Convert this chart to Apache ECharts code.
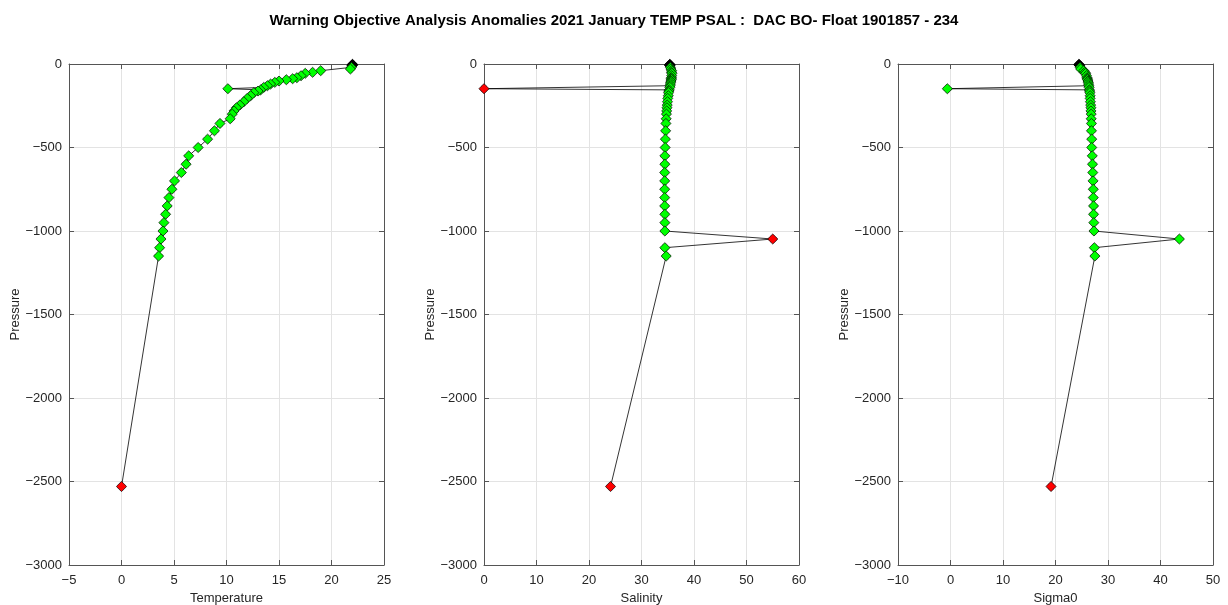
<!DOCTYPE html>
<html>
<head>
<meta charset="utf-8">
<title>Float 1901857 - 234</title>
<script src="https://cdn.jsdelivr.net/npm/echarts@6/dist/echarts.min.js"></script>
<style>
  html, body { margin: 0; padding: 0; background: #ffffff; }
  #chart { width: 1228px; height: 605px; }
</style>
</head>
<body>
<div id="chart"></div>
<script>
// Profile levels (dbar, plotted downward as negative pressure)
const pressure = [-2, -4, -6, -8, -10, -20, -30, -40, -50, -56, -70, -82, -88, -94, -102, -110, -120, -130, -140, -148,
  -155, -162, -172, -190, -206, -226, -246, -262, -281, -300, -328, -356, -400, -450, -500, -550, -600, -650, -700, -750,
  -800, -850, -900, -950, -1000, -1048, -1100, -1150, -2530];

const temperature = [22.0, 22.0, 21.95, 22.0, 21.95, 21.9, 21.8, 18.97, 18.2, 17.5, 17.1, 16.7, 16.3, 15.7, 15.0, 14.6, 14.2, 13.9, 13.55, 10.13,
  13.25, 13.0, 12.6, 12.3, 11.97, 11.65, 11.27, 10.95, 10.72, 10.55, 10.35, 9.38, 8.85, 8.2, 7.3, 6.4, 6.15, 5.7, 5.05, 4.8,
  4.52, 4.35, 4.2, 4.04, 3.95, 3.76, 3.63, 3.53, 0.0];

const salinity = [35.4, 35.4, 35.35, 35.4, 35.4, 35.5, 35.6, 35.75, 35.7, 35.8, 35.75, 35.7, 35.65, 35.7, 35.6, 35.55, 35.5, 35.45, 35.4, 0.0,
  35.3, 35.2, 35.15, 35.1, 35.0, 34.95, 34.9, 34.85, 34.8, 34.75, 34.7, 34.65, 34.6, 34.55, 34.5, 34.45, 34.45, 34.42, 34.42, 34.42,
  34.42, 34.42, 34.45, 34.45, 34.45, 55.0, 34.45, 34.7, 24.1];

const sigma0 = [24.45, 24.5, 24.5, 24.55, 24.6, 24.7, 24.8, 25.4, 25.6, 25.75, 25.9, 26.0, 26.05, 26.1, 26.2, 26.25, 26.3, 26.35, 26.4, -0.6,
  26.45, 26.5, 26.55, 26.6, 26.6, 26.65, 26.7, 26.75, 26.75, 26.8, 26.8, 26.85, 26.85, 26.9, 26.9, 27.0, 27.05, 27.1, 27.15, 27.2,
  27.2, 27.25, 27.25, 27.3, 27.33, 43.6, 27.4, 27.5, 19.15];

// Marker class per level: k = surface, g = accepted, r = flagged anomaly
const flagTemp = ['k','k','k','k','k','g','g','g','g','g','g','g','g','g','g','g','g','g','g','g',
  'g','g','g','g','g','g','g','g','g','g','g','g','g','g','g','g','g','g','g','g',
  'g','g','g','g','g','g','g','g','r'];
const flagPsal = ['k','k','k','k','k','g','g','g','g','g','g','g','g','g','g','g','g','g','g','r',
  'g','g','g','g','g','g','g','g','g','g','g','g','g','g','g','g','g','g','g','g',
  'g','g','g','g','g','r','g','g','r'];
const flagSigma = ['k','k','k','k','k','g','g','g','g','g','g','g','g','g','g','g','g','g','g','g',
  'g','g','g','g','g','g','g','g','g','g','g','g','g','g','g','g','g','g','g','g',
  'g','g','g','g','g','g','g','g','r'];

// Axis ticks: [min, max, step]
const pressureTicks = [-3000, 0, 500];
const tempTicks = [-5, 25, 5];
const salTicks = [0, 60, 10];
const sigmaTicks = [-10, 50, 10];

const panels = [
  { name: 'Temperature', values: temperature, flags: flagTemp, ticks: tempTicks, left: 69 },
  { name: 'Salinity', values: salinity, flags: flagPsal, ticks: salTicks, left: 484 },
  { name: 'Sigma0', values: sigma0, flags: flagSigma, ticks: sigmaTicks, left: 898 }
];

const flagColor = { k: '#000000', g: '#00ff00', r: '#ff0000' };
const FONT = 'Liberation Sans';
const axisColor = '#555555';
const minus = v => String(v).replace('-', '\u2212');
const marker = 'path://M50,0 L80,28 L100,50 L80,72 L50,100 L20,72 L0,50 L20,28 Z';

const grid = [], xAxis = [], yAxis = [], series = [];
panels.forEach((p, i) => {
  grid.push({ left: p.left, top: 64, width: 315, height: 501, containLabel: false, outerBoundsMode: 'none' });
  const baseX = {
    type: 'value', gridIndex: i, min: p.ticks[0], max: p.ticks[1], interval: p.ticks[2]
  };
  const baseY = {
    type: 'value', gridIndex: i, min: pressureTicks[0], max: pressureTicks[1], interval: pressureTicks[2]
  };
  xAxis.push(Object.assign({}, baseX, {
    position: 'bottom',
    name: p.name, nameLocation: 'middle', nameGap: 25,
    nameTextStyle: { fontFamily: FONT, fontSize: 13, color: '#262626' },
    axisLine: { onZero: false, lineStyle: { color: axisColor, width: 1 } },
    axisTick: { inside: true, length: 5, lineStyle: { color: axisColor } },
    axisLabel: { fontFamily: FONT, fontSize: 13, color: '#262626', margin: 9, formatter: minus },
    splitLine: { show: true, lineStyle: { color: '#e3e3e3', width: 1 } }
  }));
  xAxis.push(Object.assign({}, baseX, {
    position: 'top',
    axisLine: { onZero: false, lineStyle: { color: axisColor, width: 1 } },
    axisTick: { inside: true, length: 5, lineStyle: { color: axisColor } },
    axisLabel: { show: false },
    splitLine: { show: false }
  }));
  yAxis.push(Object.assign({}, baseY, {
    position: 'left',
    name: 'Pressure', nameLocation: 'middle', nameGap: 46, nameRotate: 90,
    nameTextStyle: { fontFamily: FONT, fontSize: 13, color: '#262626' },
    axisLine: { onZero: false, lineStyle: { color: axisColor, width: 1 } },
    axisTick: { inside: true, length: 5, lineStyle: { color: axisColor } },
    axisLabel: { fontFamily: FONT, fontSize: 13, color: '#262626', margin: 7, formatter: minus },
    splitLine: { show: true, lineStyle: { color: '#e3e3e3', width: 1 } }
  }));
  yAxis.push(Object.assign({}, baseY, {
    position: 'right',
    axisLine: { onZero: false, lineStyle: { color: axisColor, width: 1 } },
    axisTick: { inside: true, length: 5, lineStyle: { color: axisColor } },
    axisLabel: { show: false },
    splitLine: { show: false }
  }));

  const pts = p.values.map((v, k) => [v, pressure[k]]);
  series.push({
    type: 'line', xAxisIndex: 2 * i, yAxisIndex: 2 * i,
    data: pts, symbol: 'none', animation: false,
    lineStyle: { color: '#000000', width: 0.8 }, z: 2
  });
  series.push({
    type: 'scatter', xAxisIndex: 2 * i, yAxisIndex: 2 * i,
    symbol: marker, symbolSize: 10, animation: false, z: 3,
    data: pts.map((pt, k) => ({
      value: pt,
      itemStyle: { color: flagColor[p.flags[k]], opacity: 1, borderColor: '#000000', borderWidth: 0.7 }
    }))
  });
});

const chart = echarts.init(document.getElementById('chart'), null, { renderer: 'canvas' });
chart.setOption({
  backgroundColor: '#ffffff',
  animation: false,
  title: {
    text: 'Warning Objective Analysis Anomalies 2021 January TEMP PSAL :  DAC BO- Float 1901857 - 234',
    left: 'center', top: 8,
    textStyle: { fontFamily: FONT, fontSize: 15, fontWeight: 'bold', color: '#000000' }
  },
  grid: grid,
  xAxis: xAxis,
  yAxis: yAxis,
  series: series
});
</script>
</body>
</html>
